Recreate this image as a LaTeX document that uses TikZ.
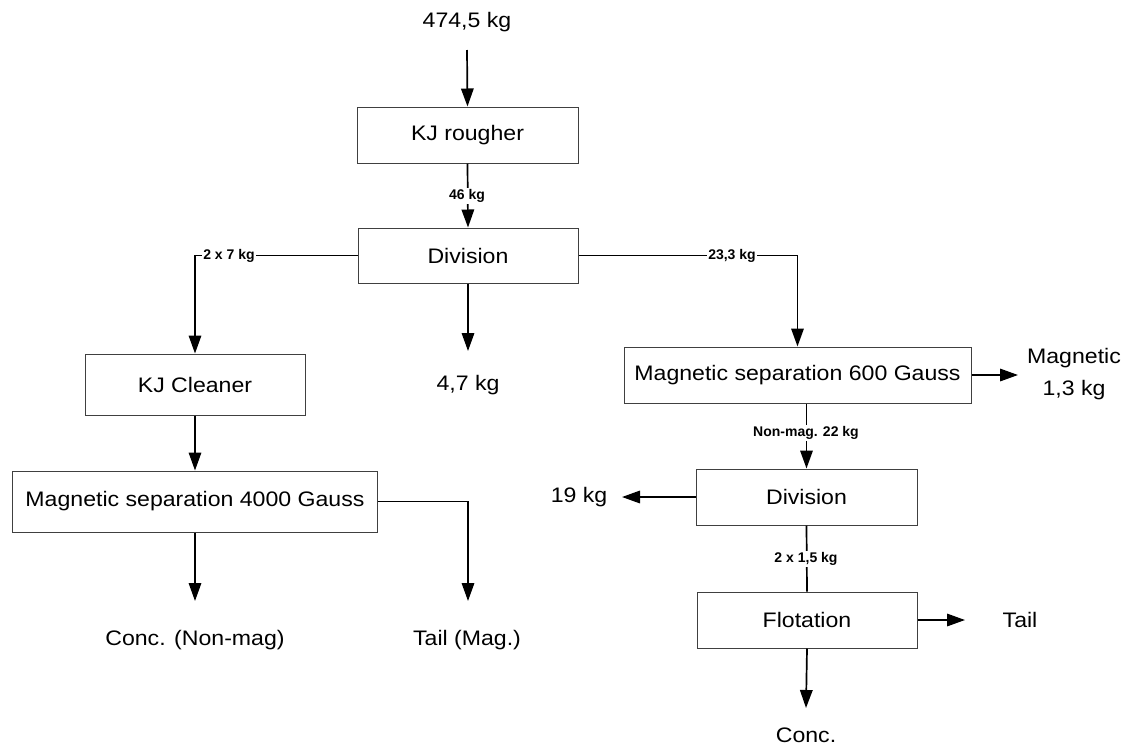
\documentclass[tikz,border=0pt]{standalone}
\usepackage{fontspec}
\setmainfont{Liberation Sans}
\newfontfamily\bigf{Liberation Sans}[FakeStretch=1.1]
\usetikzlibrary{arrows.meta}
\begin{document}
\begin{tikzpicture}[x=1pt,y=-1pt,
  procbox/.style={draw=black!75,line width=1pt,fill=white,inner sep=0pt,font=\bigf\fontsize{21}{25}\selectfont},
  bigtext/.style={inner sep=1pt,font=\bigf\fontsize{21}{32}\selectfont,align=center},
  lab/.style={fill=white,inner sep=1.5pt,font=\bfseries\fontsize{14}{16}\selectfont},
  flow/.style={line width=1.7pt,black},
  arr/.style={flow,-{Triangle[length=18pt,width=12.5pt]}}]
\useasboundingbox (0,0) rectangle (1127,745);
% process boxes
\node[procbox,minimum width=221pt,minimum height=56pt] (rough) at (467.5,135) {KJ rougher};
\node[procbox,minimum width=220pt,minimum height=55pt] (div1) at (468,255.5) {Division};
\node[procbox,minimum width=220pt,minimum height=61pt] (clean) at (195,384.5) {KJ Cleaner};
\node[procbox,minimum width=365pt,minimum height=61pt] (mag4000) at (195,501.5) {Magnetic separation 4000 Gauss};
\node[procbox,minimum width=347pt,minimum height=56pt] (mag600) at (797.5,375) {Magnetic separation 600 Gauss};
\node[procbox,minimum width=221pt,minimum height=56pt] (div2) at (806.5,497) {Division};
\node[procbox,minimum width=220pt,minimum height=56pt] (flot) at (807,620) {Flotation};
% free texts
\node[bigtext] (feed) at (467,22) {474,5 kg};
\node[bigtext] (kg47) at (468,385) {4,7 kg};
\node[bigtext] (conc1) at (195,640) {Conc. (Non-mag)};
\node[bigtext] (tail1) at (467,640) {Tail (Mag.)};
\node[bigtext] (magout) at (1074,374) {Magnetic\\1,3 kg};
\node[bigtext] (kg19) at (579,497) {19 kg};
\node[bigtext] (tail2) at (1020,620) {Tail};
\node[bigtext] (conc2) at (806,735) {Conc.};
% free arrow ends
\coordinate (feedend) at (467,50);
\coordinate (kg47tip) at (468,351);
\coordinate (conc1tip) at (195,601);
\coordinate (tail1tip) at (468,601);
\coordinate (magtip) at (1018,375);
\coordinate (kg19tip) at (622,497);
\coordinate (tail2tip) at (965,620);
\coordinate (conc2tip) at (806,708);
% connectors
\draw[arr] (feedend) -- (rough.north);
\draw[arr] (rough.south) -- (div1.north);
\draw[arr] (div1.west) -| (clean.north);
\draw[arr] (div1.south) -- (kg47tip);
\draw[arr] (div1.east) -| (mag600.north);
\draw[arr] (clean.south) -- (mag4000.north);
\draw[arr] (mag4000.south) -- (conc1tip);
\draw[arr] (mag4000.east) -| (tail1tip);
\draw[arr] (mag600.east) -- (magtip);
\draw[arr] (div2.north |- mag600.south) -- (div2.north);
\draw[arr] (div2.west) -- (kg19tip);
\draw[flow] (div2.south) -- (flot.north);
\draw[arr] (flot.east) -- (tail2tip);
\draw[arr] (flot.south) -- (conc2tip);
% labels on connectors
\node[lab] (l46) at (467,196) {46 kg};
\node[lab] (l27) at (229,255.5) {2 x 7 kg};
\node[lab] (l233) at (732,255.5) {23,3 kg};
\node[lab] (lnm) at (806,433) {Non-mag. 22 kg};
\node[lab] (l215) at (806,559) {2 x 1,5 kg};
\end{tikzpicture}
\end{document}
